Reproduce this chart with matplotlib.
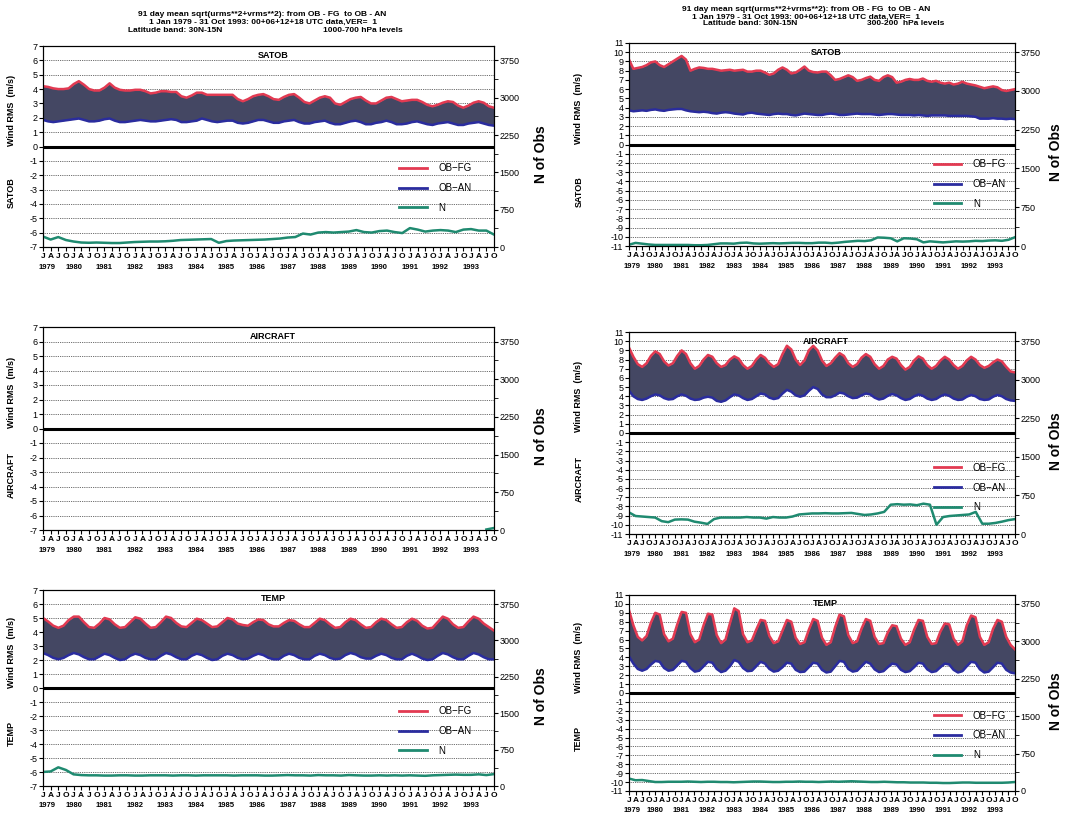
import numpy as np
import matplotlib
matplotlib.use("Agg")
from matplotlib import pyplot as plt
from matplotlib.lines import Line2D

plt.rcParams['font.family'] = ['Liberation Sans', 'DejaVu Sans']
plt.rcParams['axes.unicode_minus'] = False

# time axes: about bimonthly for the rms curves, quarterly for the obs counts
t_rms = np.linspace(1979.0, 1993.75, 89)
t_obs = np.linspace(1979.0, 1993.75, 60)
years = list(range(1979, 1994))
months = ['J', 'A', 'J', 'O'] * 15

# ---- 1000-700 hPa column ----
satob_low_fg = [4.2, 4.15, 4.05, 4.0, 4.0, 4.05,
                4.35, 4.55, 4.3, 4.0, 3.9, 3.9,
                4.1, 4.4, 4.1, 3.95, 3.9, 3.9,
                3.95, 3.95, 3.85, 3.7, 3.75, 3.85,
                3.85, 3.8, 3.8, 3.5, 3.4, 3.55,
                3.75, 3.75, 3.6, 3.6, 3.6, 3.6,
                3.6, 3.6, 3.3, 3.15, 3.3, 3.5,
                3.6, 3.65, 3.5, 3.3, 3.25, 3.45,
                3.6, 3.65, 3.4, 3.1, 3.0, 3.2,
                3.4, 3.5, 3.4, 3.0, 2.9, 3.1,
                3.3, 3.4, 3.45, 3.2, 3.0, 3.0,
                3.2, 3.4, 3.45, 3.3, 3.15, 3.2,
                3.25, 3.25, 3.1, 2.9, 2.8, 2.9,
                3.05, 3.15, 3.1, 2.85, 2.7, 2.85,
                3.05, 3.15, 3.05, 2.8, 2.7]
satob_low_an = [1.85, 1.75, 1.7, 1.75, 1.8, 1.85,
                1.9, 1.95, 1.85, 1.75, 1.75, 1.8,
                1.9, 1.95, 1.8, 1.7, 1.7, 1.75,
                1.8, 1.85, 1.8, 1.75, 1.75, 1.8,
                1.85, 1.9, 1.85, 1.7, 1.7, 1.75,
                1.8, 1.95, 1.85, 1.75, 1.7, 1.75,
                1.8, 1.8, 1.65, 1.6, 1.65, 1.75,
                1.85, 1.85, 1.75, 1.65, 1.65, 1.75,
                1.8, 1.85, 1.7, 1.6, 1.6, 1.7,
                1.75, 1.8, 1.65, 1.55, 1.55, 1.65,
                1.75, 1.8, 1.7, 1.55, 1.55, 1.65,
                1.7, 1.8, 1.7, 1.55, 1.55, 1.6,
                1.7, 1.75, 1.65, 1.55, 1.5, 1.6,
                1.65, 1.7, 1.6, 1.5, 1.5, 1.6,
                1.65, 1.7, 1.6, 1.5, 1.45]
satob_low_n = [210, 150, 200, 140, 110, 90, 85, 90, 85, 80, 80, 90,
               100, 105, 110, 110, 115, 125, 140, 145, 150, 155, 160, 85,
               120, 130, 135, 140, 145, 150, 160, 170, 190, 200, 270, 250,
               290, 300, 290, 300, 310, 340, 300, 290, 320, 330, 300, 280,
               380, 350, 310, 330, 340, 330, 300, 350, 360, 330, 330, 250]

aircraft_low_n = [None] * 58 + [10, 40]

temp_low_fg = [5.0, 4.75, 4.45, 4.3, 4.45, 4.85,
               5.1, 5.1, 4.7, 4.35, 4.3, 4.6,
               5.0, 4.9, 4.55, 4.3, 4.35, 4.7,
               5.05, 4.95, 4.6, 4.3, 4.35, 4.7,
               5.1, 5.0, 4.65, 4.4, 4.35, 4.65,
               4.95, 4.85, 4.6, 4.35, 4.4, 4.7,
               5.0, 4.9, 4.6, 4.5, 4.45, 4.7,
               4.9, 4.85, 4.55, 4.4, 4.4, 4.65,
               4.85, 4.8, 4.55, 4.35, 4.35, 4.65,
               4.95, 4.85, 4.55, 4.3, 4.35, 4.7,
               4.95, 4.85, 4.55, 4.3, 4.35, 4.7,
               4.95, 4.85, 4.55, 4.3, 4.35, 4.7,
               4.95, 4.8, 4.45, 4.25, 4.3, 4.7,
               5.1, 4.95, 4.55, 4.3, 4.35, 4.75,
               5.1, 4.95, 4.6, 4.35, 4.1]
temp_low_an = [2.5, 2.35, 2.15, 2.05, 2.15, 2.35,
               2.5, 2.4, 2.2, 2.05, 2.05, 2.25,
               2.45, 2.35, 2.15, 2.0, 2.05, 2.3,
               2.45, 2.35, 2.15, 2.05, 2.05, 2.3,
               2.5, 2.4, 2.2, 2.05, 2.05, 2.3,
               2.45, 2.35, 2.15, 2.0, 2.05, 2.3,
               2.45, 2.35, 2.15, 2.05, 2.1, 2.3,
               2.45, 2.35, 2.15, 2.05, 2.05, 2.3,
               2.45, 2.35, 2.15, 2.05, 2.05, 2.3,
               2.45, 2.35, 2.15, 2.05, 2.1, 2.35,
               2.5, 2.4, 2.2, 2.1, 2.1, 2.3,
               2.45, 2.35, 2.15, 2.05, 2.05, 2.3,
               2.45, 2.3, 2.1, 2.0, 2.05, 2.3,
               2.5, 2.4, 2.2, 2.05, 2.05, 2.3,
               2.5, 2.4, 2.2, 2.05, 2.05]
temp_low_n = [290, 300, 385, 330, 240, 225, 220, 220, 215, 215, 220, 220,
              215, 215, 220, 220, 220, 215, 220, 220, 215, 220, 220, 220,
              220, 215, 220, 220, 220, 215, 215, 220, 225, 220, 220, 215,
              225, 220, 220, 215, 225, 220, 215, 215, 220, 215, 220, 215,
              220, 215, 210, 220, 225, 230, 235, 230, 230, 240, 225, 245]

# ---- 300-200 hPa column ----
satob_up_fg = [9.2, 8.2, 8.3, 8.4, 8.6, 8.9,
               9.0, 8.6, 8.4, 8.7, 9.0, 9.3,
               9.6, 9.2, 8.0, 8.2, 8.35, 8.3,
               8.2, 8.2, 8.1, 8.0, 8.05, 8.1,
               8.0, 8.05, 8.1, 7.9, 7.9, 8.0,
               8.0, 7.8, 7.55, 7.7, 8.1, 8.35,
               8.1, 7.7, 7.8, 8.1, 8.45, 8.0,
               7.85, 7.8, 7.9, 7.9, 7.5, 7.0,
               7.1, 7.3, 7.5, 7.3, 6.9, 7.0,
               7.2, 7.35, 7.0, 6.9, 7.3, 7.5,
               7.3, 6.7, 6.8, 7.0, 7.1, 7.0,
               7.0, 7.15, 6.9, 6.8, 6.9, 6.7,
               6.6, 6.7, 6.5, 6.6, 6.8, 6.6,
               6.5, 6.4, 6.25, 6.1, 6.2, 6.3,
               6.2, 5.9, 5.8, 5.9, 6.0]
satob_up_an = [3.7, 3.6, 3.65, 3.7, 3.65, 3.75,
               3.8, 3.7, 3.65, 3.75, 3.8, 3.85,
               3.85, 3.7, 3.6, 3.55, 3.5, 3.55,
               3.5, 3.4, 3.35, 3.45, 3.5, 3.45,
               3.35, 3.3, 3.25, 3.4, 3.45, 3.35,
               3.3, 3.25, 3.2, 3.3, 3.35, 3.3,
               3.3, 3.2, 3.15, 3.25, 3.35, 3.3,
               3.25, 3.2, 3.2, 3.3, 3.35, 3.3,
               3.2, 3.2, 3.25, 3.3, 3.35, 3.3,
               3.3, 3.3, 3.25, 3.2, 3.25, 3.3,
               3.3, 3.25, 3.2, 3.2, 3.2, 3.15,
               3.2, 3.15, 3.1, 3.15, 3.15, 3.15,
               3.15, 3.1, 3.1, 3.1, 3.1, 3.1,
               3.05, 3.0, 2.8, 2.8, 2.8, 2.85,
               2.8, 2.8, 2.75, 2.8, 2.75]
satob_up_n = [25, 60, 45, 30, 20, 20, 20, 20, 20, 20, 15, 15,
              20, 35, 50, 50, 45, 60, 65, 50, 45, 50, 55, 50,
              55, 60, 60, 55, 55, 65, 65, 55, 65, 80, 90, 100,
              95, 110, 165, 160, 150, 90, 150, 145, 130, 70, 90, 80,
              70, 80, 90, 85, 90, 100, 95, 105, 110, 100, 120, 170]

aircraft_up_fg = [9.3, 8.3, 7.5, 7.2, 7.6, 8.4,
                  8.9, 8.6, 7.8, 7.35, 7.6, 8.4,
                  9.0, 8.6, 7.6, 7.0, 7.3, 8.0,
                  8.5, 8.3, 7.6, 7.2, 7.4, 8.0,
                  8.35, 8.1, 7.4, 7.0, 7.3, 8.0,
                  8.5, 8.2, 7.6, 7.2, 7.5, 8.6,
                  9.5, 9.1, 8.0, 7.4, 7.9, 9.0,
                  9.5, 9.0, 7.9, 7.3, 7.6, 8.2,
                  8.7, 8.4, 7.6, 7.2, 7.5, 8.2,
                  8.6, 8.3, 7.5, 7.0, 7.3, 8.0,
                  8.3, 8.1, 7.4, 6.9, 7.2, 7.9,
                  8.35, 8.1, 7.4, 7.0, 7.3, 7.9,
                  8.3, 8.0, 7.4, 7.0, 7.3, 7.9,
                  8.3, 8.0, 7.4, 7.1, 7.3, 7.7,
                  8.0, 7.8, 7.2, 6.7, 6.6]
aircraft_up_an = [4.6, 4.0, 3.7, 3.6, 3.75, 4.0,
                  4.2, 4.1, 3.8, 3.65, 3.7, 4.0,
                  4.2, 4.05, 3.75, 3.6, 3.65, 3.85,
                  3.95, 3.85, 3.5, 3.4, 3.55, 3.9,
                  4.2, 4.1, 3.8, 3.6, 3.7, 4.0,
                  4.3, 4.2, 3.85, 3.7, 3.8, 4.3,
                  4.7, 4.5, 4.1, 3.95, 4.1, 4.6,
                  5.0, 4.8, 4.2, 3.9, 3.9, 4.1,
                  4.4, 4.3, 4.0, 3.8, 3.85, 4.1,
                  4.3, 4.2, 3.85, 3.65, 3.75, 4.05,
                  4.25, 4.1, 3.8, 3.6, 3.7, 4.0,
                  4.2, 4.05, 3.75, 3.6, 3.7, 4.0,
                  4.2, 4.05, 3.75, 3.6, 3.65, 3.95,
                  4.15, 4.0, 3.7, 3.6, 3.65, 3.95,
                  4.15, 4.0, 3.7, 3.55, 3.5]
aircraft_up_n = [420, 350, 340, 330, 320, 250, 230, 280, 285, 280, 240, 220,
                 196, 290, 320, 320, 320, 320, 330, 320, 320, 300, 330, 320,
                 320, 340, 380, 390, 400, 400, 405, 400, 400, 405, 410, 390,
                 370, 380, 400, 430, 570, 580, 570, 575, 560, 590, 570, 180,
                 330, 350, 360, 370, 380, 430, 200, 200, 215, 240, 270, 290]

temp_up_fg = [9.3, 7.6, 6.3, 5.9, 6.4, 7.9,
              9.0, 8.8, 6.6, 5.8, 6.1, 7.7,
              9.1, 9.0, 6.6, 5.7, 6.0, 7.6,
              8.9, 8.8, 6.5, 5.6, 6.0, 7.8,
              9.5, 9.2, 6.6, 5.7, 5.9, 7.1,
              8.2, 8.1, 6.4, 5.6, 5.8, 7.0,
              8.2, 8.0, 6.2, 5.5, 5.7, 7.1,
              8.3, 8.1, 6.2, 5.4, 5.7, 7.4,
              8.8, 8.6, 6.5, 5.6, 5.8, 7.2,
              8.3, 8.1, 6.3, 5.5, 5.6, 6.8,
              7.6, 7.5, 6.1, 5.4, 5.7, 7.1,
              8.2, 8.1, 6.3, 5.5, 5.6, 6.9,
              7.8, 7.7, 6.1, 5.4, 5.8, 7.6,
              8.7, 8.5, 6.3, 5.4, 5.7, 7.2,
              8.2, 8.0, 6.3, 5.4, 4.9]
temp_up_an = [4.1, 3.3, 2.7, 2.5, 2.7, 3.2,
              3.6, 3.5, 2.8, 2.5, 2.6, 3.1,
              3.6, 3.5, 2.8, 2.4, 2.5, 3.0,
              3.5, 3.4, 2.7, 2.35, 2.5, 3.0,
              3.7, 3.5, 2.8, 2.45, 2.5, 3.0,
              3.5, 3.3, 2.7, 2.4, 2.5, 2.9,
              3.4, 3.3, 2.6, 2.35, 2.4, 2.9,
              3.4, 3.3, 2.6, 2.3, 2.4, 3.0,
              3.6, 3.5, 2.7, 2.4, 2.5, 3.0,
              3.5, 3.3, 2.65, 2.35, 2.45, 2.9,
              3.3, 3.2, 2.6, 2.35, 2.45, 2.9,
              3.4, 3.3, 2.65, 2.35, 2.45, 2.9,
              3.3, 3.2, 2.6, 2.3, 2.45, 3.0,
              3.5, 3.4, 2.65, 2.3, 2.4, 2.9,
              3.4, 3.3, 2.6, 2.3, 2.2]
temp_up_n = [250, 215, 220, 200, 180, 180, 185, 185, 185, 190, 185, 180,
             185, 185, 180, 180, 175, 180, 185, 190, 190, 185, 180, 180,
             185, 185, 190, 185, 185, 180, 185, 190, 185, 190, 195, 190,
             185, 180, 180, 185, 180, 175, 175, 170, 170, 170, 165, 165,
             160, 160, 165, 170, 170, 165, 165, 165, 165, 165, 170, 180]

RED = '#e23a52'
BLUE = '#2a2c9e'
GREEN = '#1f8a70'
BAND = '#444763'

fig = plt.figure(figsize=(10.72, 8.23), dpi=100)

def panel(rect, lim, nmax, name, fg, an, n, leg_y, lab_x):
    ax = fig.add_axes(rect)
    ax.set_xlim(1979.0, 1993.75)
    ax.set_ylim(-lim, lim)
    ax.set_yticks(range(-lim, lim + 1))
    ax.grid(axis='y', ls=(0, (1, 1.2)), color='#3a3a3a', lw=0.6)
    ax.axhline(0, color='black', lw=2.2, zorder=3)
    if fg is not None:
        ax.fill_between(t_rms, an, fg, color=BAND, lw=0, zorder=2)
        ax.plot(t_rms, fg, color=RED, lw=1.8, zorder=4)
        ax.plot(t_rms, an, color=BLUE, lw=1.8, zorder=4)
    ax.set_xticks(t_obs)
    ax.set_xticklabels(months, fontsize=6, fontweight='bold')
    ax.tick_params(axis='x', length=3, pad=1.5)
    ax.tick_params(axis='y', labelsize=6.5, length=3, pad=1)
    for sp in ax.spines.values():
        sp.set_linewidth(0.8)
    for y in years:
        xx = y + 0.12 if y == 1979 else y
        ax.text(xx, -0.1, str(y), transform=ax.get_xaxis_transform(),
                ha='center', va='center', fontsize=5.5, fontweight='bold')
    ax.text(0.51, 0.955, name, transform=ax.transAxes, ha='center',
            va='center', fontsize=6.5, fontweight='bold')
    ax.text(lab_x, 0.68, 'Wind RMS  (m/s)', transform=ax.transAxes,
            rotation=90, ha='center', va='center', fontsize=6.5,
            fontweight='bold')
    ax.text(lab_x, 0.27, name, transform=ax.transAxes, rotation=90,
            ha='center', va='center', fontsize=6.5, fontweight='bold')

    ax2 = ax.twinx()
    ax2.set_ylim(0, nmax)
    ax2.set_yticks(range(0, 3751, 750))
    ax2.set_yticks(range(375, 3751, 750), minor=True)
    ax2.tick_params(axis='y', which='major', labelsize=6.5, length=3, pad=1)
    ax2.tick_params(axis='y', which='minor', length=3)
    ax2.plot(t_obs, np.array(n, dtype=float), color=GREEN, lw=1.8)
    ax2.text(1.105, 0.46, 'N of Obs', transform=ax2.transAxes, rotation=90,
             ha='center', va='center', fontsize=10, fontweight='bold')
    if leg_y is not None:
        handles = [Line2D([], [], color=RED, lw=2),
                   Line2D([], [], color=BLUE, lw=2),
                   Line2D([], [], color=GREEN, lw=2)]
        ax2.legend(handles, ['OB\u2212FG', 'OB\u2212AN', 'N'],
                   loc='center left', bbox_to_anchor=(0.79, leg_y),
                   frameon=False, fontsize=7, handlelength=2.8,
                   handletextpad=1.2, labelspacing=1.0, borderpad=0,
                   borderaxespad=0)
    return ax

# left column, 1000-700 hPa
lx, lw_ = 43 / 1072, 451 / 1072
panel([lx, 1 - 247 / 823, lw_, 201 / 823], 7, 4040, 'SATOB',
      satob_low_fg, satob_low_an, satob_low_n, 0.294, -0.07)
panel([lx, 1 - 530 / 823, lw_, 203 / 823], 7, 4040, 'AIRCRAFT',
      None, None, aircraft_low_n, None, -0.07)
panel([lx, 1 - 786 / 823, lw_, 196 / 823], 7, 4040, 'TEMP',
      temp_low_fg, temp_low_an, temp_low_n, 0.28, -0.07)

# right column, 300-200 hPa
rx, rw = 629 / 1072, 386 / 1072
panel([rx, 1 - 246 / 823, rw, 203 / 823], 11, 3929, 'SATOB',
      satob_up_fg, satob_up_an, satob_up_n, 0.305, -0.13)
panel([rx, 1 - 534 / 823, rw, 202 / 823], 11, 3929, 'AIRCRAFT',
      aircraft_up_fg, aircraft_up_an, aircraft_up_n, 0.23, -0.13)
panel([rx, 1 - 791 / 823, rw, 196 / 823], 11, 3929, 'TEMP',
      temp_up_fg, temp_up_an, temp_up_n, 0.284, -0.13)

# headers
head1 = '91 day mean sqrt(urms**2+vrms**2): from OB - FG  to OB - AN'
head2 = '1 Jan 1979 - 31 Oct 1993: 00+06+12+18 UTC data,VER=  1'
for cx, y1, y2, y3, lx3, rx3, lev in [(0.245, 0.982, 0.973, 0.9635, 0.119, 0.301, '1000-700 hPa levels'),
                                       (0.752, 0.988, 0.979, 0.971, 0.656, 0.809, '300-200  hPa levels')]:
    fig.text(cx, y1, head1, ha='center', va='center', fontsize=6, fontweight='bold')
    fig.text(cx, y2, head2, ha='center', va='center', fontsize=6, fontweight='bold')
    fig.text(lx3, y3, 'Latitude band: 30N-15N', ha='left', va='center', fontsize=6, fontweight='bold')
    fig.text(rx3, y3, lev, ha='left', va='center', fontsize=6, fontweight='bold')

fig.savefig('out.png', dpi=100)
